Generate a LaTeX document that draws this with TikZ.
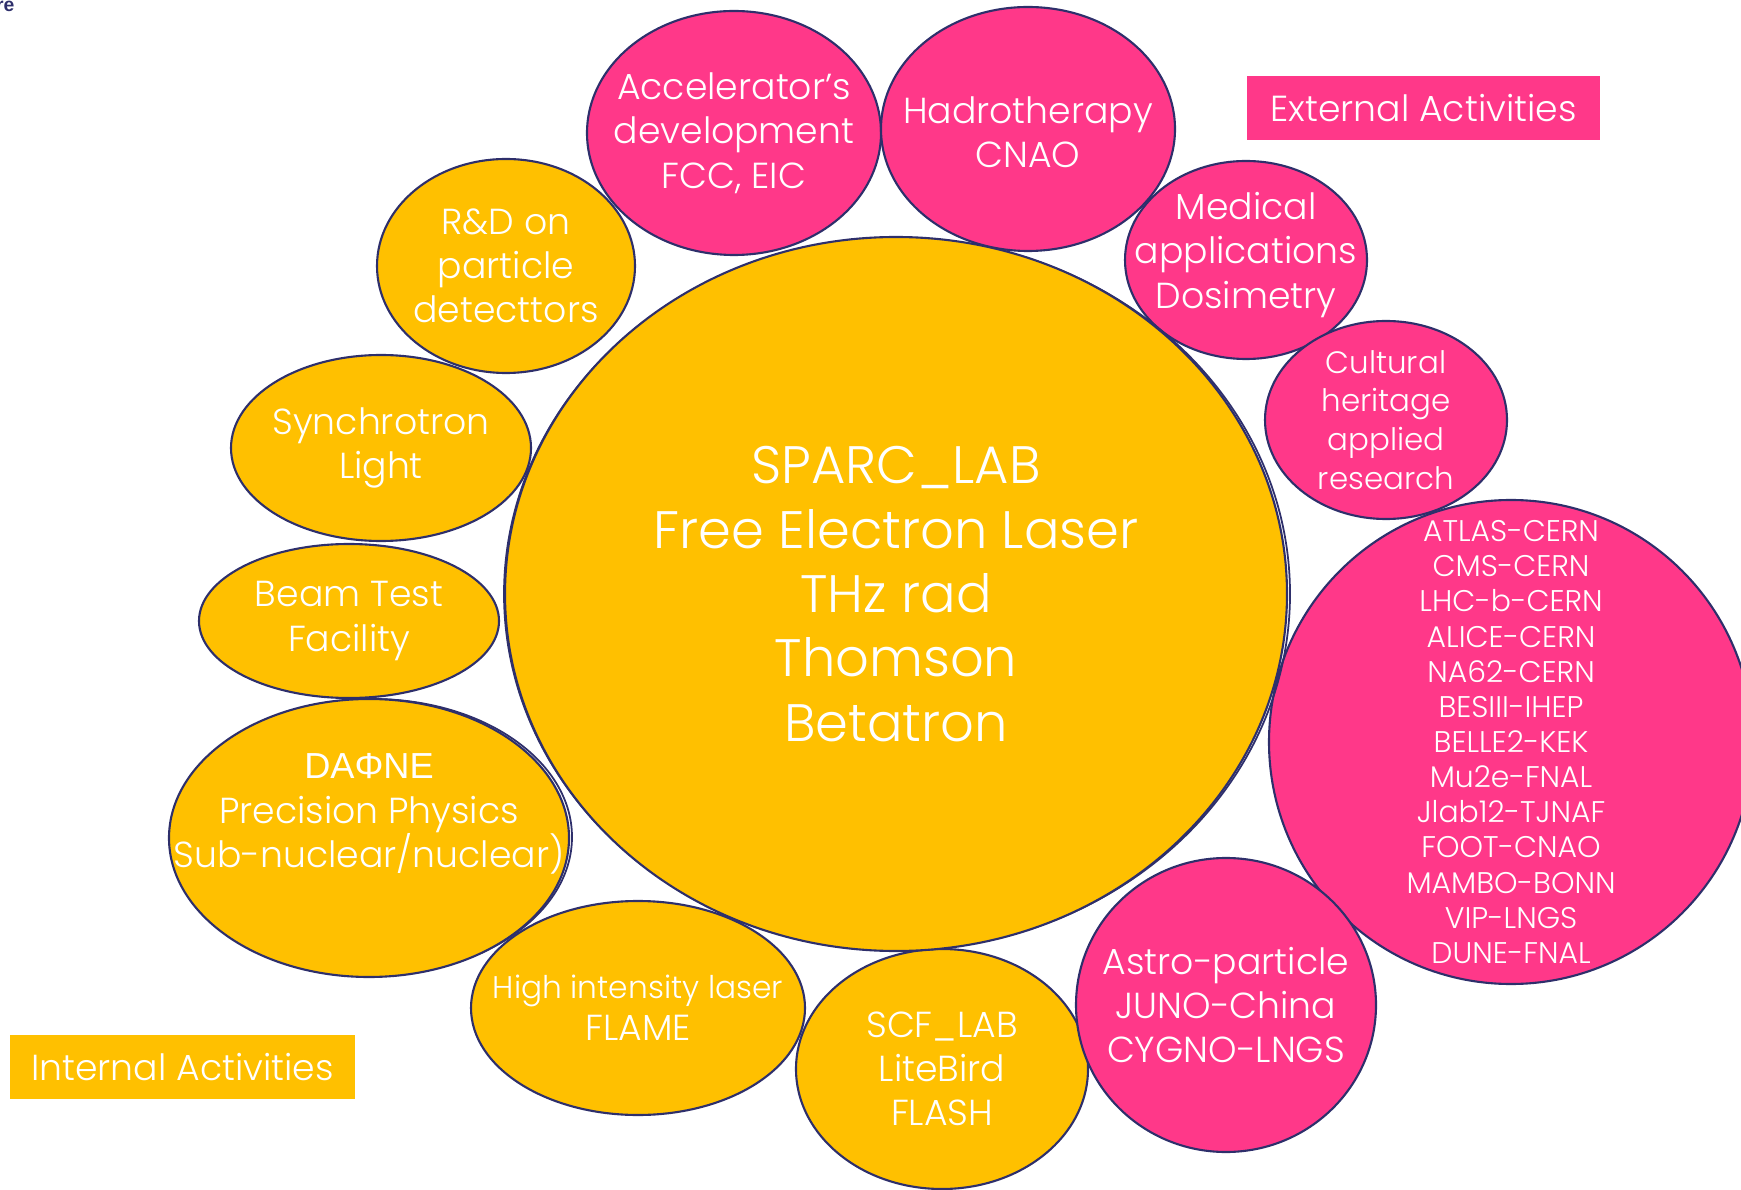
\documentclass[tikz,border=0pt]{standalone}
\usepackage{fontspec}
\IfFontExistsTF{Poppins Light}{\setmainfont{Poppins Light}}{\setmainfont{Poppins}}
\newfontfamily\greekfont{Liberation Sans}
\usetikzlibrary{shapes.geometric}
\definecolor{sparcgold}{HTML}{FFC000}
\definecolor{sparcrose}{HTML}{FF3889}
\definecolor{sparcrim}{HTML}{2E2F6B}
% #1 name, #2 centre, #3/#4 width/height (cm), #5 fill, #6/#7 font size/skip, #8 text shift, #9 text
\newcommand{\sparcbubble}[9]{%
  \node[bubble,fill=#5,minimum width=#3 cm,minimum height=#4 cm] (#1) at (#2) {};
  \node[bubbletext,font=\fontsize{#6}{#7}\selectfont] (#1-txt)
        at ([yshift=#8 cm]#1.center) {#9};
}

\begin{document}
\begin{tikzpicture}[
    bubble/.style={ellipse,draw=sparcrim,line width=0.6pt,inner sep=0pt},
    echo/.style={ellipse,draw=sparcrim,line width=0.5pt,inner sep=0pt},
    bubbletext/.style={text=white,align=center,inner sep=0pt},
    tag/.style={inner sep=0pt,text=white,minimum height=0.64cm,
                font=\fontsize{10.3}{12.6}\selectfont}]
  \useasboundingbox (0,0) rectangle (17.41,-11.90);

  % internal activities
  \sparcbubble{rnd}{5.06,-2.66}{2.58}{2.14}{sparcgold}{10.3}{12.6}{0}{R\&D on\\particle\\detecttors}
  \sparcbubble{sync}{3.81,-4.48}{3.00}{1.86}{sparcgold}{10.3}{12.6}{0}{Synchrotron\\Light}
  \sparcbubble{beam}{3.49,-6.21}{3.00}{1.54}{sparcgold}{10.3}{12.6}{0}{Beam Test\\Facility}
  \node[echo,minimum width=3.98cm,minimum height=2.76cm] (dafne-echo) at (3.73,-8.37) {};
  \sparcbubble{dafne}{3.69,-8.38}{4.00}{2.78}{sparcgold}{10.3}{12.6}{0.24}{{\greekfont DAΦNE}\\Precision Physics\\Sub-nuclear/nuclear)}
  \sparcbubble{flame}{6.38,-10.08}{3.34}{2.14}{sparcgold}{10.3}{12}{0}{{\fontsize{8.9}{12}\selectfont High intensity laser}\\FLAME}
  \sparcbubble{scf}{9.42,-10.69}{2.92}{2.40}{sparcgold}{10.3}{12.6}{0}{SCF\_LAB\\LiteBird\\FLASH}

  % external activities
  \sparcbubble{acc}{7.34,-1.33}{2.94}{2.44}{sparcrose}{10.3}{12.6}{0}{Accelerator’s\\development\\FCC, EIC}
  \sparcbubble{hadro}{10.28,-1.29}{2.94}{2.44}{sparcrose}{10.3}{12.6}{-0.03}{Hadrotherapy\\CNAO}
  \sparcbubble{med}{12.46,-2.60}{2.42}{1.98}{sparcrose}{10.3}{12.6}{0.05}{Medical\\applications\\Dosimetry}
  \sparcbubble{cult}{13.86,-4.20}{2.42}{1.98}{sparcrose}{8.8}{11}{0}{Cultural\\heritage\\applied\\research}
  \sparcbubble{exps}{15.11,-7.42}{4.84}{4.84}{sparcrose}{8.5}{10}{0}{ATLAS-CERN\\CMS-CERN\\LHC-b-CERN\\ALICE-CERN\\NA62-CERN\\BESIII-IHEP\\BELLE2-KEK\\Mu2e-FNAL\\Jlab12-TJNAF\\FOOT-CNAO\\MAMBO-BONN\\VIP-LNGS\\DUNE-FNAL}
  \sparcbubble{astro}{12.26,-10.05}{3.00}{2.94}{sparcrose}{10.3}{12.6}{0}{Astro-particle\\JUNO-China\\CYGNO-LNGS}

  % the laboratory in the middle
  \node[echo,minimum width=7.86cm,minimum height=7.12cm] (sparc-echo) at (8.97,-5.94) {};
  \sparcbubble{sparc}{8.96,-5.94}{7.82}{7.14}{sparcgold}{15}{18.3}{0}{SPARC\_LAB\\Free Electron Laser\\THz rad\\Thomson\\Betatron}

  % legend boxes
  \node[tag,fill=sparcrose,minimum width=3.53cm] (extag) at (14.235,-1.08) {External Activities};
  \node[tag,fill=sparcgold,minimum width=3.45cm] (intag) at (1.825,-10.67) {Internal Activities};
  \node[anchor=base east,inner sep=0pt,text=sparcrim,
        font=\fontsize{5.5}{6}\selectfont\greekfont\bfseries] (corner) at (0.15,-0.12) {re};
\end{tikzpicture}
\end{document}
